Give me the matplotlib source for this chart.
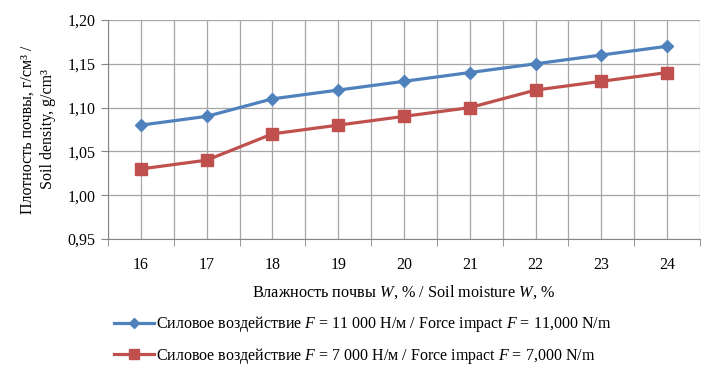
import matplotlib.pyplot as plt
import numpy as np

# Данные
moisture = [16, 17, 18, 19, 20, 21, 22, 23, 24]
density_11000 = [1.08, 1.09, 1.11, 1.12, 1.13, 1.14, 1.15, 1.16, 1.17]
density_7000 = [1.03, 1.04, 1.07, 1.08, 1.09, 1.10, 1.12, 1.13, 1.14]
yticks = [0.95, 1.00, 1.05, 1.10, 1.15, 1.20]

plt.rcParams['font.family'] = ['Liberation Serif', 'DejaVu Serif']
plt.rcParams['mathtext.fontset'] = 'custom'
plt.rcParams['mathtext.rm'] = 'Liberation Serif'
plt.rcParams['mathtext.it'] = 'Liberation Serif:italic'

fig = plt.figure(figsize=(7.22, 3.73), dpi=100)
ax = fig.add_axes([0.1496, 0.3592, 0.8199, 0.5872])

x = np.arange(len(moisture))
ax.plot(x, density_11000, '-D', color='#4F81BD', linewidth=2.3, markersize=6.5,
        label='Силовое воздействие $\\mathit{F}$ = 11 000 Н/м / Force impact $\\mathit{F}$ = 11,000 N/m')
ax.plot(x, density_7000, '-s', color='#C0504D', linewidth=2.3, markersize=8,
        label='Силовое воздействие $\\mathit{F}$ = 7 000 Н/м / Force impact $\\mathit{F}$ = 7,000 N/m')

ax.set_xlim(-0.5, len(moisture) - 0.5)
ax.set_ylim(0.95, 1.20)
ax.set_yticks(yticks)
ax.set_yticklabels([f'{v:.2f}'.replace('.', ',') for v in yticks])
ax.set_xticks(x)
ax.set_xticklabels([str(m) for m in moisture])
ax.set_xticks(np.arange(-0.5, len(moisture), 1.0), minor=True)
ax.tick_params(axis='x', which='major', length=0, pad=13, labelsize=11.5)
ax.tick_params(axis='x', which='minor', length=5, color='#868686')
ax.tick_params(axis='y', length=5, color='#868686', labelsize=11.5, pad=4)
ax.grid(True, which='both', color='#A6A6A6', linewidth=0.9)
ax.set_axisbelow(True)
for s in ['top', 'right']:
    ax.spines[s].set_visible(False)
for s in ['left', 'bottom']:
    ax.spines[s].set_color('#868686')

ax.set_xlabel('Влажность почвы $\\mathit{W}$, % / Soil moisture $\\mathit{W}$, %', fontsize=11.7, labelpad=7)
ax.set_ylabel('Плотность почвы, г/см³ /\nSoil density, g/cm³', fontsize=11.5, labelpad=8,
              linespacing=1.4)

fig.legend(loc='upper left', bbox_to_anchor=(0.158, 0.157), frameon=False,
           fontsize=11.5, handlelength=2.5, handletextpad=0.1, labelspacing=0.7,
           borderaxespad=0, borderpad=0, markerscale=0.85)

fig.savefig('out.png', dpi=100)
